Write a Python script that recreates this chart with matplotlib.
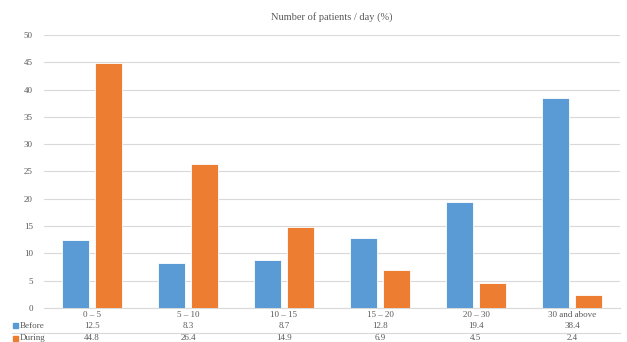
import matplotlib
matplotlib.use("Agg")
import matplotlib.pyplot as plt
import matplotlib.transforms as mtransforms
import numpy as np

categories = ["0 – 5", "5 – 10", "10 – 15", "15 – 20", "20 – 30", "30 and above"]
before = [12.5, 8.3, 8.7, 12.8, 19.4, 38.4]
during = [44.8, 26.4, 14.9, 6.9, 4.5, 2.4]
series_names = ["Before", "During"]
yticks = [0, 5, 10, 15, 20, 25, 30, 35, 40, 45, 50]

BLUE = "#5B9BD5"
ORANGE = "#ED7D31"
TXT = "#595959"
GRID = "#D9D9D9"
FONT = "Liberation Serif"

plt.rcParams['font.family'] = [FONT, 'DejaVu Serif']

W, H = 627, 342
fig = plt.figure(figsize=(W/100, H/100), dpi=100)
L, R, B, T = 44, 620, 308, 35
ax = fig.add_axes([L/W, 1-B/H, (R-L)/W, (B-T)/H])

x = np.arange(len(categories))
bw = 0.28
off = 0.174
ax.bar(x-off, before, bw, color=BLUE, edgecolor="white", linewidth=0.6, zorder=3)
ax.bar(x+off, during, bw, color=ORANGE, edgecolor="white", linewidth=0.6, zorder=3)

ax.set_xlim(-0.5, len(categories)-0.5)
ax.set_ylim(0, 50)
ax.set_yticks(yticks)
ax.set_yticklabels([str(v) for v in yticks], fontsize=6.5, color=TXT)
ax.tick_params(axis='y', length=0, pad=8)
ax.grid(axis='y', color=GRID, linewidth=0.8, zorder=0)
for s in ["top", "right", "left"]:
    ax.spines[s].set_visible(False)
ax.spines["bottom"].set_color(GRID)
ax.spines["bottom"].set_linewidth(0.8)
ax.set_xticks(x)
ax.set_xticklabels(categories, fontsize=6.5, color=TXT)
ax.tick_params(axis='x', length=0, pad=2.5)

fig.text((L+R)/2/W, 1-17/H, "Number of patients / day (%)", ha="center", va="center",
         fontsize=7.5, color=TXT)

# data table
trans = mtransforms.blended_transform_factory(ax.transData, fig.transFigure)
rows = [before, during]
row_y = [325.5, 338.5]
colors = [BLUE, ORANGE]
for vals, yy, name, c in zip(rows, row_y, series_names, colors):
    for xi, v in zip(x, vals):
        ax.text(xi, 1-yy/H, f"{v}", transform=trans, ha="center", va="center",
                fontsize=6.5, color=TXT, clip_on=False)
    fig.patches.append(plt.Rectangle((13/W, 1-(yy+2.5)/H), 5/W, 5/H,
                                     transform=fig.transFigure, color=c))
    fig.text(20/W, 1-yy/H, name, ha="left", va="center", fontsize=6.5, color=TXT)

fig.add_artist(plt.Line2D([12/W, R/W], [1-332.5/H, 1-332.5/H], color=GRID,
                          linewidth=0.8, transform=fig.transFigure))

fig.savefig("out.png", dpi=100)
